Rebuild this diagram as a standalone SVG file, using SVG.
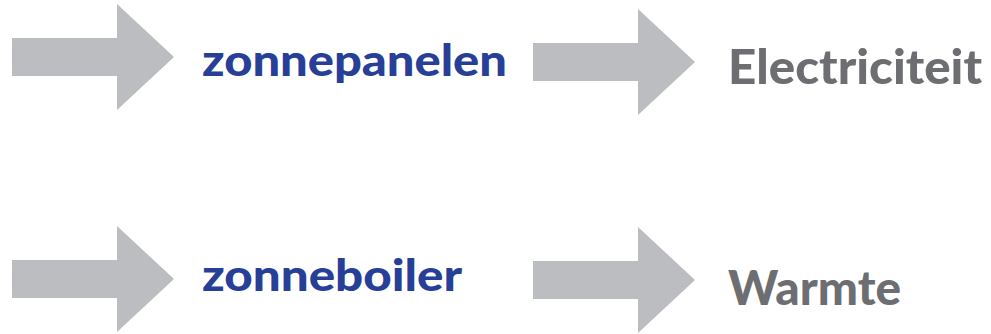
<svg xmlns="http://www.w3.org/2000/svg" width="991" height="334" viewBox="0 0 991 334">
  <style>
    .arrow { fill: #bcbdc0; }
    .src { font-family: Lato, "Liberation Sans", sans-serif; font-weight: 900; fill: #283f98; font-size: 44px; }
    .out { font-family: Lato, "Liberation Sans", sans-serif; font-weight: 900; fill: #6d6e71; font-size: 47px; }
  </style>
  <defs>
    <!-- block arrow pointing right, origin at shaft's left edge / centre line -->
    <path id="blockArrow" d="M0,-19 H105 V-53 L162,0 L105,53 V19 H0 Z"/>
  </defs>
  <g id="connectors">
    <use href="#blockArrow" class="arrow" x="12" y="57"/>
    <use href="#blockArrow" class="arrow" x="533" y="62"/>
    <use href="#blockArrow" class="arrow" x="12" y="279"/>
    <use href="#blockArrow" class="arrow" x="533" y="280"/>
  </g>
  <g id="zonnepanelen">
    <text class="src" x="202" y="76" textLength="305" lengthAdjust="spacingAndGlyphs">zonnepanelen</text>
  </g>
  <g id="electriciteit">
    <text class="out" x="728" y="84" textLength="254" lengthAdjust="spacingAndGlyphs">Electriciteit</text>
  </g>
  <g id="zonneboiler">
    <text class="src" x="202" y="291" textLength="260" lengthAdjust="spacingAndGlyphs">zonneboiler</text>
  </g>
  <g id="warmte">
    <text class="out" x="728" y="305" textLength="173" lengthAdjust="spacingAndGlyphs">Warmte</text>
  </g>
</svg>
